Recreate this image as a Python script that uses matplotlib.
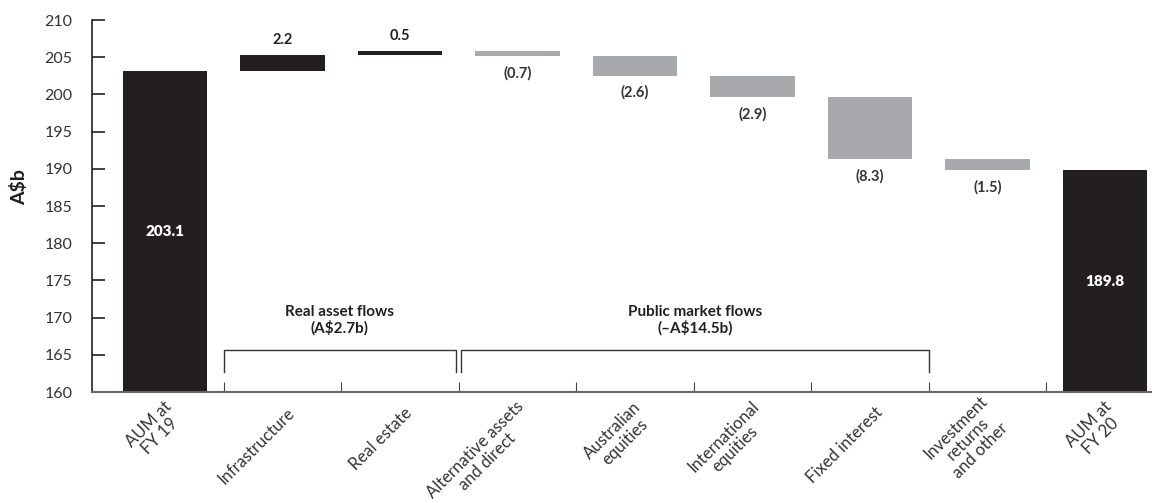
import matplotlib
matplotlib.use('Agg')
import numpy as np
import matplotlib.pyplot as plt
import matplotlib.transforms as mtransforms

plt.rcParams['font.family'] = ['Lato', 'DejaVu Sans']

categories = ['AUM at\nFY 19', 'Infrastructure', 'Real estate', 'Alternative assets\nand direct',
              'Australian\nequities', 'International\nequities', 'Fixed interest',
              'Investment\nreturns\nand other', 'AUM at\nFY 20']
changes = [203.1, 2.2, 0.5, -0.7, -2.6, -2.9, -8.3, -1.5]
total_end = 189.8
value_labels = ['203.1', '2.2', '0.5', '(0.7)', '(2.6)', '(2.9)', '(8.3)', '(1.5)', '189.8']
group_names = ['Real asset flows\n(A$2.7b)', 'Public market flows\n(\u2013A$14.5b)']

dark = '#231f20'
grey = '#a7a9ac'
ymin, ymax = 160, 210

# running totals for the floating bars
bottoms = []
heights = []
level = 0.0
for i, c in enumerate(changes):
    if i == 0:
        bottoms.append(0)
        heights.append(c)
        level = c
    else:
        bottoms.append(min(level, level + c))
        heights.append(abs(c))
        level = level + c
bottoms.append(0)
heights.append(total_end)
n = len(categories)
colors = [dark if (i == 0 or i == n - 1 or changes[i] > 0) else grey for i in range(n)]

fig = plt.figure(figsize=(11.52, 5.03), dpi=100)
ax = fig.add_axes([92/1152, 1-392/503, 1-92/1152, (392-20)/503])
x = np.arange(n)
ax.bar(x, heights, bottom=bottoms, width=0.72, color=colors)

ax.set_ylim(ymin, ymax)
ax.set_xlim(-0.62, 8.4)
ax.set_yticks(range(ymin, ymax + 1, 5))
ax.tick_params(axis='y', direction='in', length=9, width=1.2, labelsize=11.5,
               color=dark, labelcolor='#333333', pad=14)
ax.set_ylabel('A$b', fontsize=14, fontweight='bold', color=dark)
ax.yaxis.set_label_coords(-0.06, 0.55)

ax.set_xticks(x)
ax.set_xticklabels(categories, rotation=45, ha='right', va='center', rotation_mode='anchor',
                   fontsize=12, color='#333333', multialignment='center', linespacing=1.05)
ax.tick_params(axis='x', which='major', length=0, pad=13)
# nudge the slanted labels to the right so they end under the bar centres
shift = mtransforms.ScaledTranslation(7/72, 0, fig.dpi_scale_trans)
for lab in ax.get_xticklabels():
    lab.set_transform(lab.get_transform() + shift)
ax.set_xticks(np.arange(0.5, 7.6, 1), minor=True)
ax.tick_params(axis='x', which='minor', direction='in', length=7, width=0.8, color='#444444')

for s in ['top', 'right']:
    ax.spines[s].set_visible(False)
ax.spines['left'].set_color(dark)
ax.spines['left'].set_linewidth(1.2)
ax.spines['bottom'].set_color('#666666')
ax.spines['bottom'].set_linewidth(1.5)

# value labels
for i in range(n):
    if i == 0 or i == n - 1:
        mid = (ymin + heights[i]) / 2
        ax.text(x[i], mid, value_labels[i], ha='center', va='center', color='white',
                fontsize=11, fontweight='heavy')
    elif changes[i] > 0:
        ax.annotate(value_labels[i], (x[i], bottoms[i] + heights[i]), xytext=(0, 6),
                    textcoords='offset points', ha='center', va='bottom',
                    fontsize=10.5, fontweight='bold', color=dark)
    else:
        ax.annotate(value_labels[i], (x[i], bottoms[i]), xytext=(0, -7),
                    textcoords='offset points', ha='center', va='top',
                    fontsize=10.5, fontweight='bold', color='#333333')

# group brackets
spans = [(0.5, 2.48), (2.52, 6.5)]
for (a, b), name in zip(spans, group_names):
    ax.plot([a, a, b, b], [162.7, 165.6, 165.6, 162.7], color='#333333', lw=1.0)
    ax.text((a + b) / 2, 167.6, name, ha='center', va='bottom', fontsize=11,
            fontweight='bold', color=dark, linespacing=1.1)

plt.savefig('out.png', dpi=100)
